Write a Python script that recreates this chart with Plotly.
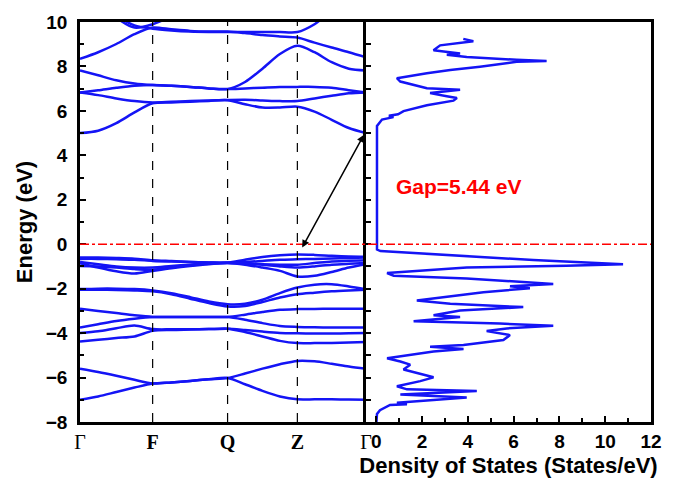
import plotly.graph_objects as go

# ---------------- data ----------------
K_GRID = [0.0, 0.0635, 0.127, 0.1905, 0.254, 0.3195, 0.385, 0.4505, 0.516,
          0.577, 0.638, 0.699, 0.760, 0.820, 0.880, 0.940, 1.0]
K_SYM = [0.0, 0.254, 0.516, 0.760, 1.0]
K_LABELS = ["Γ", "<b>F</b>", "<b>Q</b>", "<b>Z</b>", "Γ"]

# conduction bands
C1 = [5.0, 5.11, 5.45, 5.93, 6.34, 6.38, 6.41, 6.45, 6.48, 6.30, 6.15, 6.15, 6.19, 5.97, 5.60, 5.23, 5.0]
C2 = [6.83, 6.71, 6.56, 6.44, 6.38, 6.41, 6.44, 6.47, 6.49, 6.50, 6.47, 6.44, 6.44, 6.56, 6.68, 6.79, 6.83]
C3 = [6.83, 6.93, 7.04, 7.13, 7.16, 7.13, 7.08, 7.01, 6.98, 7.01, 7.04, 7.07, 7.08, 7.08, 7.04, 6.93, 6.83]
C4 = [7.82, 7.60, 7.38, 7.23, 7.16, 7.13, 7.08, 7.01, 6.98, 7.30, 7.90, 8.56, 8.93, 8.64, 8.19, 7.90, 7.82]
U1 = [8.34, 8.64, 9.01, 9.45, 9.75, 9.67, 9.60, 9.57, 9.57, 9.50, 9.41, 9.35, 9.30, 9.07, 8.85, 8.64, 8.41]
U2 = [11.5, 11.0, 10.3, 9.85, 9.70, 9.62, 9.57, 9.55, 9.55, 9.55, 9.55, 9.55, 9.55, 9.90, 10.5, 10.9, 11.2]
U3 = [12.0, 11.0, 10.2, 9.75, 9.90, 10.3, 11.0, 11.5, 12.0, 12.0, 12.0, 12.0, 12.0, 12.0, 12.0, 12.0, 12.0]
# valence bands
V1 = [-0.60, -0.60, -0.62, -0.65, -0.72, -0.76, -0.80, -0.82, -0.83, -0.70, -0.58, -0.50, -0.46, -0.48, -0.52, -0.55, -0.56]
V2 = [-0.66, -0.66, -0.68, -0.70, -0.75, -0.78, -0.80, -0.82, -0.83, -0.80, -0.75, -0.70, -0.68, -0.66, -0.64, -0.62, -0.60]
V3 = [-0.80, -0.90, -1.00, -1.05, -1.05, -0.98, -0.92, -0.86, -0.83, -0.86, -0.90, -0.92, -0.92, -0.85, -0.78, -0.74, -0.72]
V4 = [-0.85, -1.05, -1.22, -1.32, -1.20, -1.08, -0.98, -0.90, -0.85, -0.92, -1.05, -1.20, -1.45, -1.42, -1.25, -1.05, -0.90]
V5 = [-0.98, -1.00, -1.05, -1.12, -1.15, -1.05, -0.95, -0.88, -0.84, -0.86, -0.92, -1.00, -1.05, -1.00, -0.92, -0.88, -0.85]
V6 = [-2.02, -2.00, -2.00, -2.02, -2.08, -2.20, -2.38, -2.58, -2.70, -2.68, -2.50, -2.20, -1.95, -1.82, -1.80, -1.90, -2.03]
V7 = [-2.05, -2.05, -2.06, -2.08, -2.12, -2.25, -2.45, -2.65, -2.80, -2.78, -2.60, -2.40, -2.25, -2.18, -2.12, -2.08, -2.05]
V8 = [-2.90, -3.00, -3.10, -3.20, -3.27, -3.27, -3.27, -3.27, -3.27, -3.17, -3.05, -2.95, -2.92, -2.91, -2.90, -2.90, -2.90]
V9 = [-3.75, -3.60, -3.45, -3.35, -3.28, -3.28, -3.28, -3.28, -3.28, -3.40, -3.55, -3.68, -3.72, -3.74, -3.75, -3.75, -3.75]
V10 = [-4.00, -3.92, -3.78, -3.66, -3.82, -3.83, -3.83, -3.82, -3.80, -3.86, -3.93, -3.99, -4.01, -4.02, -4.02, -4.01, -4.00]
V11 = [-4.38, -4.30, -4.22, -4.15, -3.90, -3.86, -3.84, -3.82, -3.80, -3.95, -4.15, -4.35, -4.45, -4.45, -4.44, -4.42, -4.40]
V12 = [-5.60, -5.75, -5.92, -6.10, -6.27, -6.22, -6.15, -6.08, -6.02, -5.82, -5.60, -5.40, -5.25, -5.27, -5.38, -5.50, -5.60]
V13 = [-7.00, -6.85, -6.65, -6.45, -6.27, -6.22, -6.15, -6.08, -6.02, -6.30, -6.60, -6.85, -6.98, -6.98, -6.98, -6.99, -7.00]
BANDS = [C1, C2, C3, C4, U1, U2, U3, V1, V2, V3, V4, V5, V6, V7, V8, V9, V10, V11, V12, V13]

# density of states
DOS_E = [-8.1, -7.64, -7.47, -7.23, -7.2, -7.13, -6.9, -6.76, -6.61, -6.53, -6.39, -6.16,
         -5.99, -5.79, -5.64, -5.42, -5.28, -5.13, -4.83, -4.71, -4.61, -4.53, -4.31, -4.09,
         -3.91, -3.79, -3.67, -3.57, -3.47, -3.27, -3.2, -2.98, -2.83, -2.68, -2.53, -2.16,
         -1.98, -1.89, -1.79, -1.54, -1.42, -1.30, -1.05, -0.97, -0.90, -0.71, -0.53, -0.31,
         -0.24, 5.32, 5.61, 5.72, 5.78, 5.85, 5.99, 6.25, 6.46, 6.58, 6.66, 6.8, 6.95, 7.02,
         7.32, 7.47, 7.69, 7.84, 7.99, 8.21, 8.25, 8.30, 8.43, 8.53, 8.58, 8.73, 8.95, 9.07,
         9.13, 9.24]
DOS_V = [0.0, 0.03, 0.16, 0.6, 1.34, 0.9, 3.95, 1.05, 4.39, 1.34, 0.9, 1.92,
         2.5, 1.77, 1.19, 1.48, 1.05, 0.47, 2.5, 3.81, 2.35, 3.81, 5.55, 5.84,
         4.82, 5.7, 7.73, 5.4, 1.63, 3.66, 2.5, 3.66, 6.42, 3.23, 1.77, 4.68,
         6.71, 5.84, 7.73, 3.95, 0.76, 0.47, 3.95, 8.3, 10.78, 6.86, 3.95, 0.18,
         0.03, 0.03, 0.25, 0.75, 0.55, 0.95, 1.19, 2.21, 3.37, 3.52, 3.08, 2.35, 3.66, 2.21,
         1.05, 0.9, 2.21, 3.23, 4.53, 6.13, 7.44, 6.13, 3.95, 3.08, 3.66, 2.5, 2.79, 3.66,
         4.24, 3.8]

Y_TICKS = [-8, -6, -4, -2, 0, 2, 4, 6, 8, 10]
X2_TICKS = [0, 2, 4, 6, 8, 10, 12]
GAP_TEXT = "Gap=5.44 eV"
VBM = (0.774, -0.22)
CBM = (0.993, 4.93)

# ---------------- figure ----------------
BLUE = "rgb(20,20,245)"
fig = go.Figure()
for b in BANDS:
    fig.add_trace(go.Scatter(x=K_GRID, y=b, mode="lines", xaxis="x", yaxis="y",
                             line=dict(color=BLUE, width=2.5, shape="spline", smoothing=0.8),
                             showlegend=False, hoverinfo="skip"))
fig.add_trace(go.Scatter(x=DOS_V, y=DOS_E, mode="lines", xaxis="x2", yaxis="y2",
                         line=dict(color=BLUE, width=2.5), showlegend=False, hoverinfo="skip"))

split = 287 / 573
line_style = dict(showline=True, linecolor="black", linewidth=2.5,
                  showgrid=False, zeroline=False)
SANS = "Arial, Liberation Sans"
tick_font = dict(family=SANS, size=19, color="black", weight="bold")
title_font = dict(family=SANS, size=22, color="black", weight="bold")

shapes = []
for k in K_SYM[1:4]:
    shapes.append(dict(type="line", xref="x", yref="y", x0=k, x1=k, y0=-8, y1=10,
                       line=dict(color="black", width=1.2, dash="dash")))
shapes.append(dict(type="line", xref="paper", yref="y", x0=0, x1=1, y0=0, y1=0,
                   line=dict(color="red", width=1.5, dash="dashdot")))

fig.update_layout(
    width=674, height=487,
    margin=dict(l=80, r=21, t=18, b=64),
    paper_bgcolor="white", plot_bgcolor="white",
    xaxis=dict(domain=[0, split], range=[0, 1], anchor="y", mirror=True,
               tickvals=K_SYM, ticktext=K_LABELS, ticks="",
               tickfont=dict(family="Liberation Serif, Times New Roman", size=20, color="black"),
               **line_style),
    yaxis=dict(domain=[0, 1], range=[-8, 10], anchor="x", mirror=False,
               tickvals=Y_TICKS, ticks="inside", ticklen=6, tickwidth=2, tickcolor="black",
               minor=dict(dtick=1, ticks="inside", ticklen=4, tickwidth=2, tickcolor="black"),
               tickfont=tick_font, ticklabelstandoff=6,
               title=dict(text="Energy (eV)", standoff=8, font=title_font),
               **line_style),
    xaxis2=dict(domain=[split, 1], range=[-0.45, 12], anchor="y2", mirror=True,
                tickvals=X2_TICKS, ticks="inside", ticklen=6, tickwidth=2, tickcolor="black",
                minor=dict(dtick=1, ticks="inside", ticklen=4, tickwidth=2, tickcolor="black"),
                tickfont=tick_font,
                title=dict(text="Density of States (States/eV)", standoff=8, font=title_font),
                **line_style),
    yaxis2=dict(domain=[0, 1], range=[-8, 10], anchor="x2", mirror=True,
                tickvals=Y_TICKS, ticks="inside", ticklen=5, tickwidth=2, tickcolor="black",
                minor=dict(dtick=1, ticks="inside", ticklen=5, tickwidth=2, tickcolor="black"),
                showticklabels=False, **line_style),
    shapes=shapes,
    annotations=[
        dict(x=CBM[0], y=CBM[1], xref="x", yref="y", ax=VBM[0], ay=VBM[1],
             axref="x", ayref="y", text="", showarrow=True, arrowhead=2,
             startarrowhead=2, arrowside="end+start", arrowwidth=1.5, arrowsize=1,
             arrowcolor="black", standoff=0, startstandoff=0),
        dict(x=0.78, y=2.58, xref="x2", yref="y2", text="<b>" + GAP_TEXT + "</b>",
             showarrow=False, xanchor="left", yanchor="middle",
             font=dict(family=SANS, size=21, color="red")),
    ],
)

fig.write_html("out.html", config={"displayModeBar": False},
               post_script="document.body.style.margin='0';")
